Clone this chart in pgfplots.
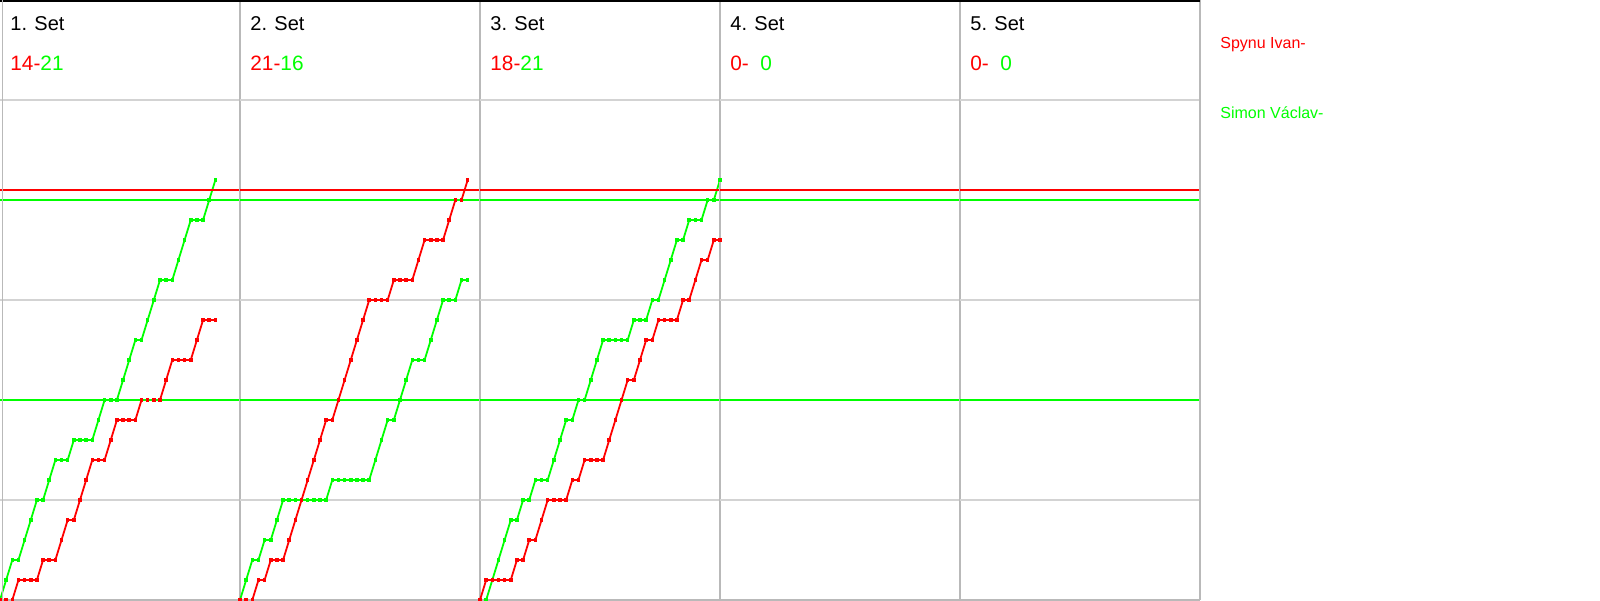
\documentclass[border=0pt]{standalone}
\usepackage{pgfplots}
\usepackage{pgfplotstable}
\pgfplotsset{compat=1.18}
\usepackage{fontspec}
\setmainfont{Liberation Sans}
\definecolor{pred}{RGB}{255,0,0}
\definecolor{pgreen}{RGB}{0,255,0}
\definecolor{gridgray}{RGB}{211,211,211}
\definecolor{sepgray}{RGB}{185,185,185}

% rally index k, score of Spynu Ivan (r), score of Simon Vaclav (g)
\pgfplotstableread{
k r g
0 0 0
1 0 1
2 0 2
3 1 2
4 1 3
5 1 4
6 1 5
7 2 5
8 2 6
9 2 7
10 3 7
11 4 7
12 4 8
13 5 8
14 6 8
15 7 8
16 7 9
17 7 10
18 8 10
19 9 10
20 9 11
21 9 12
22 9 13
23 10 13
24 10 14
25 10 15
26 10 16
27 11 16
28 12 16
29 12 17
30 12 18
31 12 19
32 13 19
33 14 19
34 14 20
35 14 21
}\setone

\pgfplotstableread{
k r g
0 0 0
1 0 1
2 0 2
3 1 2
4 1 3
5 2 3
6 2 4
7 2 5
8 3 5
9 4 5
10 5 5
11 6 5
12 7 5
13 8 5
14 9 5
15 9 6
16 10 6
17 11 6
18 12 6
19 13 6
20 14 6
21 15 6
22 15 7
23 15 8
24 15 9
25 16 9
26 16 10
27 16 11
28 16 12
29 17 12
30 18 12
31 18 13
32 18 14
33 18 15
34 19 15
35 20 15
36 20 16
37 21 16
}\settwo

\pgfplotstableread{
k r g
0 0 0
1 1 0
2 1 1
3 1 2
4 1 3
5 1 4
6 2 4
7 2 5
8 3 5
9 3 6
10 4 6
11 5 6
12 5 7
13 5 8
14 5 9
15 6 9
16 6 10
17 7 10
18 7 11
19 7 12
20 7 13
21 8 13
22 9 13
23 10 13
24 11 13
25 11 14
26 12 14
27 13 14
28 13 15
29 14 15
30 14 16
31 14 17
32 14 18
33 15 18
34 15 19
35 16 19
36 17 19
37 17 20
38 18 20
39 18 21
}\setthree

\pgfplotsset{
  setpanel/.style={
    anchor=south west, scale only axis, width=120pt, height=300pt,
    xmin=0, xmax=39, ymin=0, ymax=30,
    xtick=\empty, ytick={5,10,15,20,25}, yticklabels={},
    ymajorgrids, major grid style={gridgray, line width=0.6pt},
    major tick length=0pt,
    axis line style={draw=none},
    clip=false,
  },
  redser/.style={pred, line width=0.9pt, mark=square*, mark size=0.45pt, mark options={solid, fill=pred, draw=pred}},
  greenser/.style={pgreen, line width=0.9pt, mark=square*, mark size=0.45pt, mark options={solid, fill=pgreen, draw=pgreen}},
}
\tikzset{
  setfont/.style={font=\fontsize{10pt}{12pt}\selectfont},
  scorefont/.style={font=\fontsize{10.4pt}{12pt}\selectfont},
}

\newcommand{\panelextras}[2]{%
  \addplot[pgreen, line width=1pt, forget plot] coordinates {(0,10) (39,10)};
  \addplot[pgreen, line width=1pt, forget plot] coordinates {(0,20) (39,20)};
  \addplot[pred, line width=1pt, forget plot] coordinates {(0,20.5) (39,20.5)};
  \draw[sepgray, line width=0.9pt] (rel axis cs:1,0) -- (rel axis cs:1,1);
  \draw[sepgray, line width=0.9pt] (rel axis cs:0,0) -- (rel axis cs:1,0);
  \draw[black, line width=1.7pt] (rel axis cs:0,1) -- (rel axis cs:1,1);
  \node[anchor=base west, inner sep=0pt, setfont] at ([xshift=5pt,yshift=-15.3pt]rel axis cs:0,1) {#1};
  \node[anchor=base west, inner sep=0pt, scorefont] at ([xshift=5pt,yshift=-35.5pt]rel axis cs:0,1) {#2};
}

\begin{document}
\begin{tikzpicture}
\useasboundingbox (0,0) rectangle (800pt,300pt);

\begin{axis}[setpanel, at={(0pt,0pt)}]
  \addplot[greenser] table[x=k,y=g] {\setone};
  \addplot[redser] table[x=k,y=r] {\setone};
  \panelextras{1. Set}{\textcolor{pred}{14-}\textcolor{pgreen}{21}}
  \draw[sepgray, line width=0.9pt] ([xshift=1.25pt]rel axis cs:0,0) -- ([xshift=1.25pt]rel axis cs:0,1);
\end{axis}

\begin{axis}[setpanel, at={(120pt,0pt)}]
  \addplot[greenser] table[x=k,y=g] {\settwo};
  \addplot[redser] table[x=k,y=r] {\settwo};
  \panelextras{2. Set}{\textcolor{pred}{21-}\textcolor{pgreen}{16}}
\end{axis}

\begin{axis}[setpanel, at={(240pt,0pt)}]
  \addplot[greenser] table[x=k,y=g] {\setthree};
  \addplot[redser] table[x=k,y=r] {\setthree};
  \panelextras{3. Set}{\textcolor{pred}{18-}\textcolor{pgreen}{21}}
\end{axis}

\begin{axis}[setpanel, at={(360pt,0pt)}]
  \panelextras{4. Set}{\textcolor{pred}{0-}\hphantom{0}\textcolor{pgreen}{0}}
\end{axis}

\begin{axis}[setpanel, at={(480pt,0pt)}]
  \panelextras{5. Set}{\textcolor{pred}{0-}\hphantom{0}\textcolor{pgreen}{0}}
\end{axis}

\node[anchor=base west, inner sep=0pt, text=pred, font=\fontsize{8pt}{9.6pt}\selectfont] at (610pt,275.5pt) {Spynu Ivan-};
\node[anchor=base west, inner sep=0pt, text=pgreen, font=\fontsize{8pt}{9.6pt}\selectfont] at (610pt,240.5pt) {Simon Václav-};
\end{tikzpicture}
\end{document}
